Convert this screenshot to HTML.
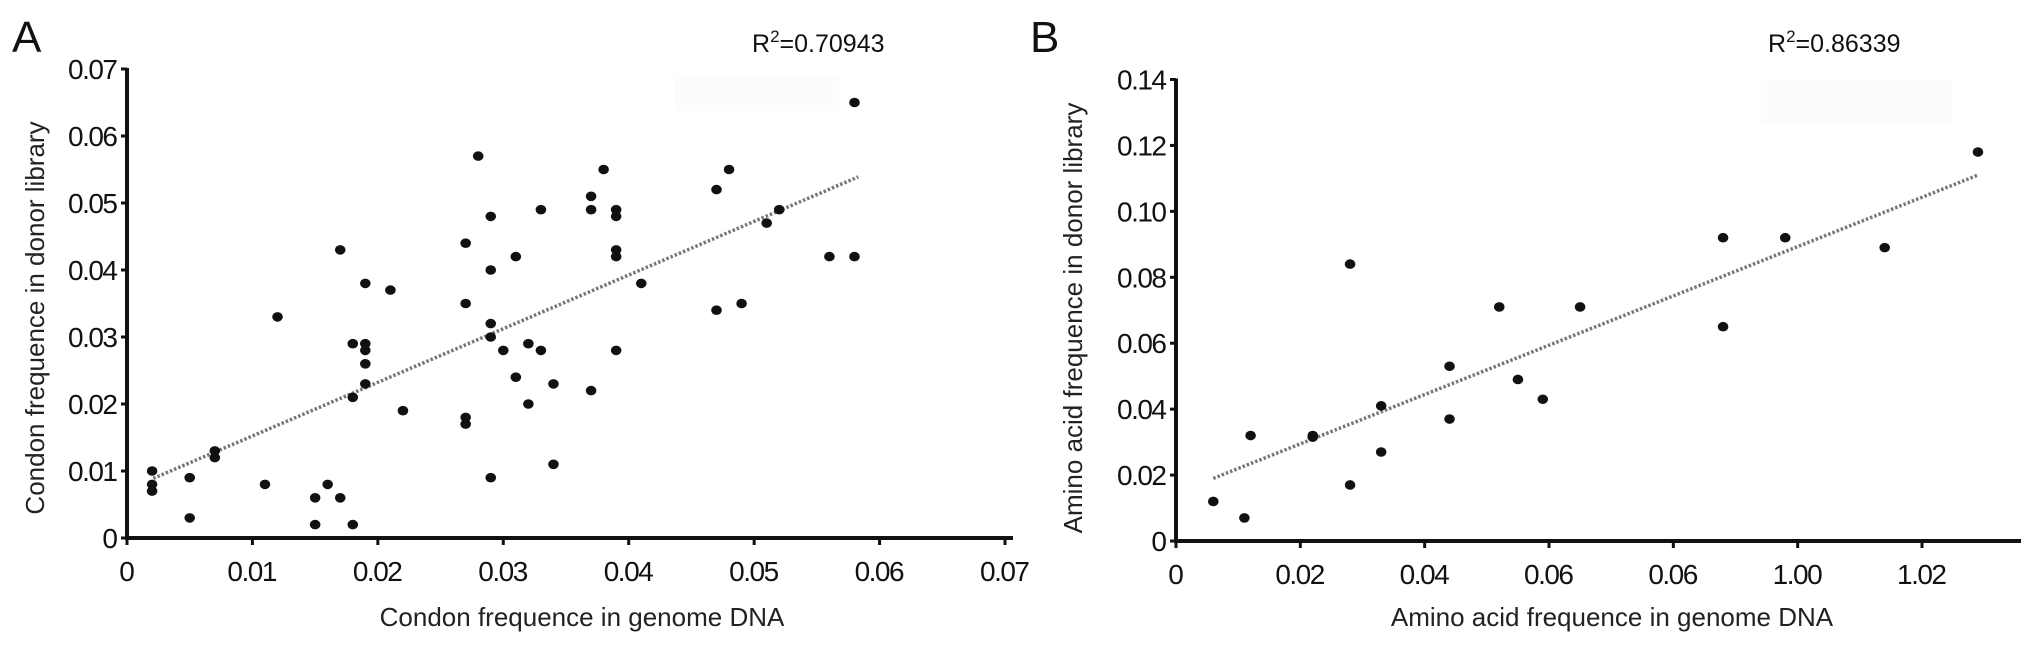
<!DOCTYPE html>
<html><head><meta charset="utf-8"><style>
html,body{margin:0;padding:0;background:#fff;}
svg{display:block;font-family:"Liberation Sans",sans-serif;}
</style></head><body>
<svg id="fig" width="2032" height="646" viewBox="0 0 2032 646" xmlns="http://www.w3.org/2000/svg"></svg>
<script>
// Panel A data
const aX = [0.002,0.002,0.002,0.005,0.005,0.007,0.007,0.011,0.012,0.015,0.015,0.016,0.017,0.017,0.018,0.018,0.018,0.019,0.019,0.019,0.019,0.019,0.021,0.022,0.027,0.027,0.027,0.027,0.028,0.029,0.029,0.029,0.029,0.029,0.030,0.031,0.031,0.032,0.032,0.033,0.033,0.034,0.034,0.037,0.037,0.037,0.038,0.039,0.039,0.039,0.039,0.039,0.041,0.047,0.047,0.048,0.049,0.051,0.052,0.056,0.058,0.058];
const aY = [0.010,0.008,0.007,0.009,0.003,0.013,0.012,0.008,0.033,0.006,0.002,0.008,0.006,0.043,0.029,0.021,0.002,0.038,0.029,0.028,0.026,0.023,0.037,0.019,0.044,0.035,0.018,0.017,0.057,0.048,0.040,0.032,0.030,0.009,0.028,0.042,0.024,0.029,0.020,0.049,0.028,0.023,0.011,0.051,0.049,0.022,0.055,0.049,0.048,0.043,0.042,0.028,0.038,0.052,0.034,0.055,0.035,0.047,0.049,0.042,0.042,0.065];
const aTrendX = [0.0021,0.0583];
const aTrendY = [0.0089,0.0539];
const aXTicks = [0,0.01,0.02,0.03,0.04,0.05,0.06,0.07];
const aXTickLabels = ["0","0.01","0.02","0.03","0.04","0.05","0.06","0.07"];
const aYTicks = [0,0.01,0.02,0.03,0.04,0.05,0.06,0.07];
const aYTickLabels = ["0","0.01","0.02","0.03","0.04","0.05","0.06","0.07"];
// Panel B data
const bX = [0.006,0.011,0.012,0.022,0.022,0.028,0.028,0.033,0.033,0.044,0.044,0.052,0.055,0.059,0.065,0.088,0.088,0.098,0.114,0.129];
const bY = [0.012,0.007,0.032,0.0315,0.032,0.084,0.017,0.041,0.027,0.053,0.037,0.071,0.049,0.043,0.071,0.092,0.065,0.092,0.089,0.118];
const bTrendX = [0.006,0.129];
const bTrendY = [0.019,0.111];
const bXTicks = [0,0.02,0.04,0.06,0.08,0.10,0.12];
const bXTickLabels = ["0","0.02","0.04","0.06","0.06","1.00","1.02"];
const bYTicks = [0,0.02,0.04,0.06,0.08,0.10,0.12,0.14];
const bYTickLabels = ["0","0.02","0.04","0.06","0.08","0.10","0.12","0.14"];

const NS="http://www.w3.org/2000/svg";
const svg=document.getElementById('fig');
function mk(tag,attrs,parent){const e=document.createElementNS(NS,tag);for(const k in attrs)e.setAttribute(k,attrs[k]);(parent||svg).appendChild(e);return e;}

function panel(p){
  const g=mk('g',{});
  
  
  const sx=v=>p.x0+(v-p.xmin)/(p.xmax-p.xmin)*(p.x1-p.x0);
  const sy=v=>p.y0-(v-p.ymin)/(p.ymax-p.ymin)*(p.y0-p.y1);
  const bx=mk('rect',{x:p.box[0],y:p.box[1],width:p.box[2],height:p.box[3],fill:'#fcfcfc'},g);
  
  
  const L=mk('text',{x:p.letterX,y:52,'font-size':44,fill:'#111'},g);L.textContent=p.letter;
  
  
  const r=mk('text',{x:p.r2X,y:52,'font-size':25,fill:'#111'},g);
  
  
  r.innerHTML='R<tspan dy="-10" font-size="17">2</tspan><tspan dy="10">='+p.r2+'</tspan>';
  const ya=mk('line',{x1:p.x0,y1:p.y0+2,x2:p.x0,y2:p.y1-1,stroke:'#111','stroke-width':4},g);
  
  
  const xa=mk('line',{x1:p.x0-2,y1:p.y0,x2:p.xEnd,y2:p.y0,stroke:'#111','stroke-width':4},g);
  
  
  p.yt.forEach((v,i)=>{
    const y=sy(v);
    const t=mk('line',{x1:p.x0-6,y1:y,x2:p.x0,y2:y,stroke:'#111','stroke-width':3},g);
    
    
    const l=mk('text',{x:p.x0-9,y:y+10,'font-size':28,'text-anchor':'end',fill:'#111'},g);
    if(p.ytl[i].length>1)l.setAttribute('textLength',p.ytl[i].length*12.5);
    l.textContent=p.ytl[i];
    
    
  });
  p.xt.forEach((v,i)=>{
    const x=sx(v);
    const t=mk('line',{x1:x,y1:p.y0,x2:x,y2:p.y0+7,stroke:'#111','stroke-width':3},g);
    
    
    const l=mk('text',{x:x,y:p.y0+43,'font-size':28,'text-anchor':'middle',fill:'#111'},g);
    if(p.xtl[i].length>1)l.setAttribute('textLength',p.xtl[i].length*12.5);
    l.textContent=p.xtl[i];
    
    
  });
  const tl=mk('line',{x1:sx(p.tx[0]),y1:sy(p.ty[0]),x2:sx(p.tx[1]),y2:sy(p.ty[1]),stroke:'#777','stroke-width':3.5,'stroke-dasharray':'2.5 2'},g);
  
  
  p.xs.forEach((v,i)=>{
    const c=mk('ellipse',{cx:sx(v),cy:sy(p.ys[i]),rx:5.3,ry:4.8,fill:'#111'},g);
    
    
  });
  const xt=mk('text',{x:p.xTitleX,y:626,'font-size':26,'text-anchor':'middle',fill:'#222'},g);
  xt.textContent=p.xTitle;
  
  
  const yt=mk('text',{x:0,y:0,'font-size':26,'text-anchor':'middle',fill:'#222',transform:'translate('+p.yTitleX+',318) rotate(-90)'},g);
  yt.textContent=p.yTitle;
  
  
}

panel({name:'panel-a',letter:'A',letterX:12,r2:'0.70943',r2X:752,box:[674,74,165,37],
  x0:127,x1:1005,xEnd:1013,xmin:0,xmax:0.07,y0:538,y1:69,ymin:0,ymax:0.07,
  xt:aXTicks,xtl:aXTickLabels,yt:aYTicks,ytl:aYTickLabels,tx:aTrendX,ty:aTrendY,xs:aX,ys:aY,
  xTitle:'Condon frequence in genome DNA',xTitleX:582,yTitle:'Condon frequence in donor library',yTitleX:44});
panel({name:'panel-b',letter:'B',letterX:1030,r2:'0.86339',r2X:1768,box:[1761,80,191,46],
  x0:1176,x1:1922,xEnd:2021,xmin:0,xmax:0.12,y0:541,y1:79.5,ymin:0,ymax:0.14,
  xt:bXTicks,xtl:bXTickLabels,yt:bYTicks,ytl:bYTickLabels,tx:bTrendX,ty:bTrendY,xs:bX,ys:bY,
  xTitle:'Amino acid frequence in genome DNA',xTitleX:1612,yTitle:'Amino acid frequence in donor library',yTitleX:1082});
</script>
</body></html>
